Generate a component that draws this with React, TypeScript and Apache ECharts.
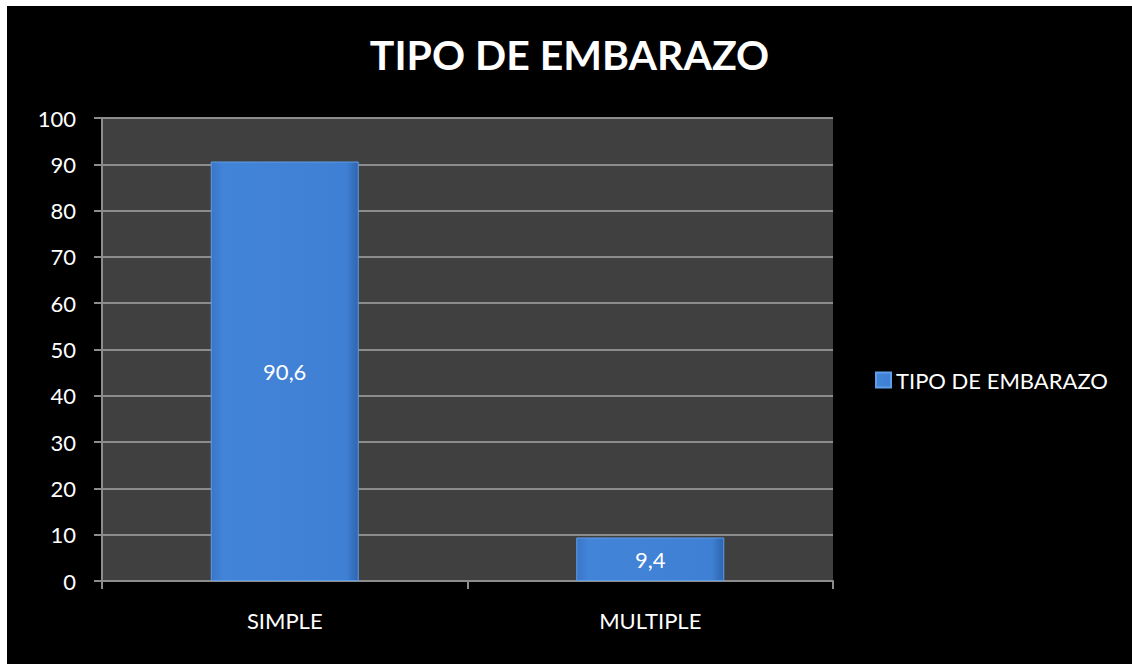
import React, { useEffect, useRef } from "react";
import * as echarts from "echarts";

const titleText = "TIPO DE EMBARAZO";
const seriesName = "TIPO DE EMBARAZO";
const categories = ["SIMPLE", "MULTIPLE"];
const values = [90.6, 9.4];
const yTicks = { min: 0, max: 100, interval: 10 };

const FONT = "Lato, 'Open Sans', sans-serif";

export default function App() {
  const ref = useRef<HTMLDivElement>(null);
  useEffect(() => {
    if (!ref.current) return;
    const chart = echarts.init(ref.current, null, { renderer: "svg" });
    const barColor = new echarts.graphic.LinearGradient(0, 0, 1, 0, [
      { offset: 0, color: "#3a76c8" },
      { offset: 0.08, color: "#4284d8" },
      { offset: 0.92, color: "#3f80d4" },
      { offset: 1, color: "#2f64ae" },
    ]);
    chart.setOption({
      animation: false,
      backgroundColor: "#000000",
      title: {
        text: titleText,
        left: "center",
        top: 23,
        textStyle: { color: "#ffffff", fontSize: 41, fontWeight: "bold", fontFamily: FONT },
      },
      legend: {
        data: [seriesName],
        left: 863,
        top: 358,
        itemWidth: 15,
        itemHeight: 15,
        itemGap: 6,
        icon: "rect",
        textStyle: { color: "#ffffff", fontSize: 22, fontFamily: FONT },
      },
      grid: {
        left: 95,
        top: 112,
        right: 299,
        bottom: 83,
        show: true,
        backgroundColor: "#404040",
        borderWidth: 0,
      },
      xAxis: {
        type: "category",
        data: categories,
        axisLine: { show: true, lineStyle: { color: "#8c8c8c", width: 2 } },
        axisTick: { show: true, length: 8, lineStyle: { color: "#8c8c8c", width: 2 } },
        axisLabel: { color: "#ffffff", fontSize: 22, fontFamily: FONT, margin: 28 },
      },
      yAxis: {
        type: "value",
        min: yTicks.min,
        max: yTicks.max,
        interval: yTicks.interval,
        axisLine: { show: true, lineStyle: { color: "#8c8c8c", width: 2 } },
        axisTick: { show: true, length: 8, lineStyle: { color: "#8c8c8c", width: 2 } },
        axisLabel: { color: "#ffffff", fontSize: 22, fontFamily: FONT, margin: 26 },
        splitLine: { show: true, lineStyle: { color: "#8c8c8c", width: 2 } },
      },
      series: [
        {
          name: seriesName,
          type: "bar",
          data: values,
          barWidth: "40.5%",
          itemStyle: {
            color: barColor,
            borderColor: "#5f9ee8",
            borderWidth: 1,
          },
          label: {
            show: true,
            position: "inside",
            color: "#ffffff",
            fontSize: 22,
            fontFamily: FONT,
            formatter: (p: any) => String(p.value).replace(".", ","),
          },
        },
      ],
    });
    return () => chart.dispose();
  }, []);
  return (
    <div
      ref={ref}
      style={{ position: "fixed", left: 7, top: 6, width: 1125, height: 658 }}
    />
  );
}
